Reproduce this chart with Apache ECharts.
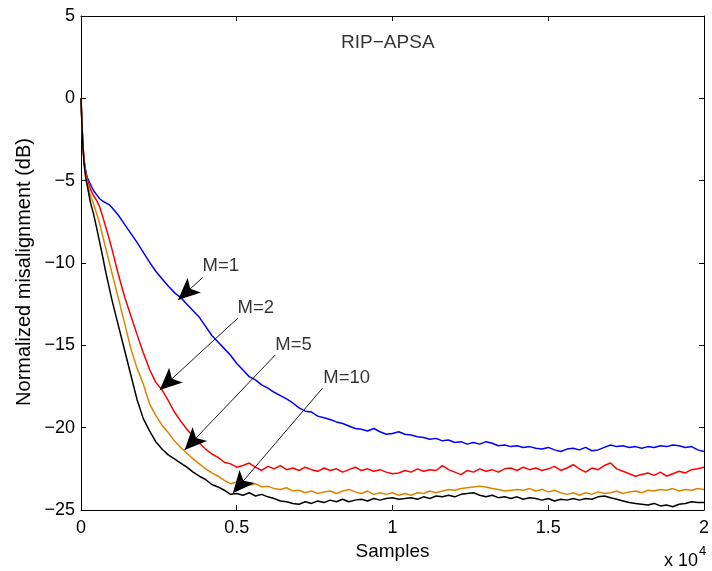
<!DOCTYPE html>
<html>
<head>
<meta charset="utf-8">
<script src="https://cdn.jsdelivr.net/npm/echarts@6/dist/echarts.min.js"></script>
<style>html,body{margin:0;padding:0;background:#fff}#c{width:712px;height:571px}</style>
</head>
<body>
<div id="c"></div>
<script>
// Samples axis (shared by all curves)
const X = [0,30,60,100,150,200,300,400,500,600,700,800,900,1000,
1200,1400,1600,1800,2000,2200,2400,2600,2800,3000,3200,3400,3600,3800,4000,4200,4400,4600,4800,5000,
5200,5400,5600,5800,6000,6200,6400,6600,6800,7000,7200,7400,7600,7800,8000,8200,8400,8600,8800,9000,
9200,9400,9600,9800,10000,10200,10400,10600,10800,11000,11200,11400,11600,11800,12000,12200,12400,12600,12800,13000,
13200,13400,13600,13800,14000,14200,14400,14600,14800,15000,15200,15400,15600,15800,16000,16200,16400,16600,16800,17000,
17200,17400,17600,17800,18000,18200,18400,18600,18800,19000,19200,19400,19600,19800,20000];

const M1 = [0,-1.5,-2.8,-3.8,-4.4,-4.8,-5.2,-5.6,-5.85,-6.1,-6.25,-6.35,-6.45,-6.65,
-7.1,-7.65,-8.2,-8.75,-9.35,-9.95,-10.5,-10.95,-11.4,-11.8,-12.1,-12.5,-12.9,-13.3,-13.85,-14.4,-14.8,-15.2,-15.6,-16.1,
-16.5,-16.9,-17.1,-17.4,-17.6,-17.85,-18.05,-18.25,-18.5,-18.8,-19.0,-19.05,-19.3,-19.4,-19.5,-19.65,-19.75,-19.9,-20.05,-20.1,
-20.2,-20.05,-20.25,-20.4,-20.35,-20.25,-20.4,-20.45,-20.55,-20.6,-20.7,-20.65,-20.8,-20.75,-20.9,-20.85,-21.0,-20.9,-21.0,-20.85,
-20.95,-21.1,-21.05,-21.15,-21.1,-21.2,-21.15,-21.25,-21.3,-21.2,-21.35,-21.45,-21.3,-21.25,-21.35,-21.2,-21.4,-21.35,-21.2,-21.05,
-21.15,-21.1,-21.2,-21.15,-21.25,-21.15,-21.2,-21.1,-21.15,-21.05,-21.1,-21.2,-21.15,-21.35,-21.45];

const M2 = [0,-1.5,-2.8,-3.8,-4.5,-4.9,-5.5,-5.9,-6.2,-6.6,-7.2,-7.85,-8.5,-9.2,
-10.7,-12.05,-13.2,-14.35,-15.45,-16.45,-17.25,-17.7,-18.35,-19.05,-19.6,-20.1,-20.55,-20.95,-21.3,-21.6,-21.8,-22.1,-22.2,-22.4,
-22.3,-22.15,-22.4,-22.6,-22.35,-22.5,-22.3,-22.55,-22.45,-22.6,-22.4,-22.55,-22.65,-22.45,-22.6,-22.5,-22.7,-22.55,-22.4,-22.6,
-22.5,-22.65,-22.55,-22.7,-22.8,-22.75,-22.6,-22.7,-22.5,-22.65,-22.55,-22.6,-22.3,-22.55,-22.7,-22.85,-22.6,-22.7,-22.5,-22.65,
-22.55,-22.7,-22.5,-22.45,-22.6,-22.4,-22.55,-22.45,-22.6,-22.5,-22.35,-22.6,-22.45,-22.25,-22.5,-22.7,-22.45,-22.55,-22.3,-22.15,
-22.5,-22.65,-22.8,-22.95,-22.85,-22.75,-22.9,-22.7,-22.95,-22.8,-22.65,-22.75,-22.55,-22.5,-22.4];

const M5 = [0,-1.5,-2.8,-3.9,-4.6,-5.1,-5.9,-6.4,-7.0,-7.6,-8.4,-9.15,-9.9,-10.65,
-12.15,-13.65,-15.2,-16.4,-17.35,-18.55,-19.25,-19.85,-20.3,-20.8,-21.2,-21.55,-21.9,-22.2,-22.5,-22.75,-22.95,-23.2,-23.4,-23.3,
-23.45,-23.5,-23.4,-23.6,-23.55,-23.7,-23.75,-23.65,-23.85,-23.8,-23.95,-23.85,-24.0,-23.9,-23.85,-24.0,-23.85,-23.75,-23.9,-24.0,
-23.85,-24.05,-23.95,-24.05,-23.95,-24.1,-24.0,-24.1,-23.95,-24.0,-23.85,-23.95,-23.85,-23.75,-23.8,-23.7,-23.65,-23.6,-23.55,-23.6,
-23.7,-23.75,-23.85,-23.8,-23.75,-23.8,-23.7,-23.85,-23.75,-23.9,-23.8,-23.95,-24.05,-23.95,-24.1,-23.95,-24.05,-23.9,-24.0,-23.95,
-23.85,-24.0,-23.9,-23.85,-23.95,-23.8,-23.85,-23.75,-23.8,-23.7,-23.85,-23.75,-23.8,-23.7,-23.75];

const M10 = [0,-1.6,-2.9,-4.0,-4.8,-5.3,-6.3,-7.0,-7.85,-8.75,-9.65,-10.6,-11.45,-12.3,
-13.8,-15.3,-16.8,-18.3,-19.45,-20.2,-20.85,-21.3,-21.65,-21.9,-22.15,-22.4,-22.7,-22.95,-23.15,-23.45,-23.6,-23.8,-24.05,-24.0,
-24.1,-23.95,-24.15,-24.05,-24.2,-24.3,-24.45,-24.5,-24.6,-24.65,-24.5,-24.6,-24.45,-24.55,-24.4,-24.5,-24.35,-24.5,-24.4,-24.35,
-24.45,-24.3,-24.4,-24.3,-24.25,-24.35,-24.3,-24.25,-24.35,-24.2,-24.3,-24.15,-24.2,-24.1,-24.2,-24.05,-24.0,-23.95,-24.1,-24.2,
-24.1,-24.25,-24.2,-24.3,-24.2,-24.35,-24.25,-24.3,-24.4,-24.3,-24.45,-24.35,-24.4,-24.3,-24.4,-24.3,-24.35,-24.2,-24.15,-24.25,
-24.35,-24.45,-24.55,-24.6,-24.65,-24.7,-24.6,-24.75,-24.7,-24.8,-24.65,-24.6,-24.5,-24.55,-24.55];

const seriesNames = ['M=1','M=2','M=5','M=10'];
const seriesColors = ['#0000ff','#ff0000','#de8400','#000000'];

// annotation arrows: [label, labelX, labelY, lineStartX, lineStartY, tipX, tipY]
const annotations = [
  ['M=1', 3904, -10.18, 3914, -10.87, 3114, -12.24],
  ['M=2', 5024, -12.73, 5034, -13.35, 2528, -17.71],
  ['M=5', 6240, -14.98, 6240, -15.58, 3328, -21.35],
  ['M=10', 7776, -16.98, 7754, -17.6, 4874, -23.98]
];
const titleText = 'RIP\u2212APSA';
const titlePos = [9850, 3.36];
const xName = 'Samples';
const yName = 'Normalized misalignment (dB)';

const FONT = '"Liberation Sans", Arial, Helvetica, sans-serif';
const zip = ys => X.map((x, i) => [x, ys[i]]);
const fmtY = v => (v < 0 ? '\u2212' + Math.abs(v) : String(v));

const chart = echarts.init(document.getElementById('c'), null, {renderer: 'canvas'});

const axisCommonX = {
  type: 'value', min: 0, max: 20000, interval: 5000,
  axisLine: {show: true, onZero: false, lineStyle: {color: '#000', width: 1}},
  axisTick: {show: true, inside: true, length: 5, lineStyle: {color: '#000'}},
  splitLine: {show: false}
};
const axisCommonY = {
  type: 'value', min: -25, max: 5, interval: 5,
  axisLine: {show: true, onZero: false, lineStyle: {color: '#000', width: 1}},
  axisTick: {show: true, inside: true, length: 5, lineStyle: {color: '#000'}},
  splitLine: {show: false}
};

const lineSeries = [M1, M2, M5, M10].map((ys, i) => ({
  name: seriesNames[i], type: 'line', data: zip(ys), showSymbol: false, symbol: 'none',
  lineStyle: {color: seriesColors[i], width: 1.5}, itemStyle: {color: seriesColors[i]},
  z: 2 + i, silent: true
}));

lineSeries[3].markLine = {
  silent: true, animation: false,
  symbol: ['none', 'arrow'], symbolSize: [15, 22],
  lineStyle: {color: '#000', width: 0.9, type: 'solid'},
  itemStyle: {color: '#000'},
  label: {show: false}, emphasis: {disabled: true},
  data: annotations.map(a => [{coord: [a[3], a[4]]}, {coord: [a[5], a[6]]}])
};

const labelSeries = {
  type: 'scatter', symbolSize: 0, silent: true, z: 10,
  data: annotations.map(a => [a[1], a[2], a[0]]),
  label: {show: true, position: 'right', distance: 0, formatter: p => p.data[2],
    color: '#000', fontSize: 18.5, fontFamily: FONT}
};
const titleSeries = {
  type: 'scatter', symbolSize: 0, silent: true, z: 10,
  data: [[titlePos[0], titlePos[1], titleText]],
  label: {show: true, position: 'inside', formatter: p => p.data[2],
    color: '#000', fontSize: 19, fontFamily: FONT}
};

chart.setOption({
  animation: false,
  backgroundColor: '#fff',
  grid: {left: 81, top: 16, right: 6, bottom: 61, containLabel: false},
  xAxis: [
    Object.assign({}, axisCommonX, {
      position: 'bottom',
      name: xName, nameLocation: 'middle', nameGap: 28,
      nameTextStyle: {color: '#000', fontSize: 19, fontFamily: FONT},
      axisLabel: {color: '#000', fontSize: 18, fontFamily: FONT, margin: 9, formatter: v => String(v / 10000)}
    }),
    Object.assign({}, axisCommonX, {position: 'top', axisLabel: {show: false}})
  ],
  yAxis: [
    Object.assign({}, axisCommonY, {
      position: 'left',
      axisLabel: {color: '#000', fontSize: 18, fontFamily: FONT, margin: 6, formatter: fmtY}
    }),
    Object.assign({}, axisCommonY, {position: 'right', axisLabel: {show: false}})
  ],
  series: lineSeries.concat([labelSeries, titleSeries]),
  graphic: [
    {type: 'text', silent: true, x: 24, y: 272, rotation: Math.PI / 2,
      style: {x: 0, y: 0, text: yName, fill: '#000', font: '20px ' + FONT, textAlign: 'center', textVerticalAlign: 'middle'}},
    {type: 'text', silent: true, style: {x: 698, y: 561, text: 'x 10', fill: '#000', font: '18px ' + FONT, textAlign: 'right', textVerticalAlign: 'middle'}},
    {type: 'text', silent: true, style: {x: 699, y: 551, text: '4', fill: '#000', font: '13px ' + FONT, textAlign: 'left', textVerticalAlign: 'middle'}}
  ]
});
</script>
</body>
</html>
